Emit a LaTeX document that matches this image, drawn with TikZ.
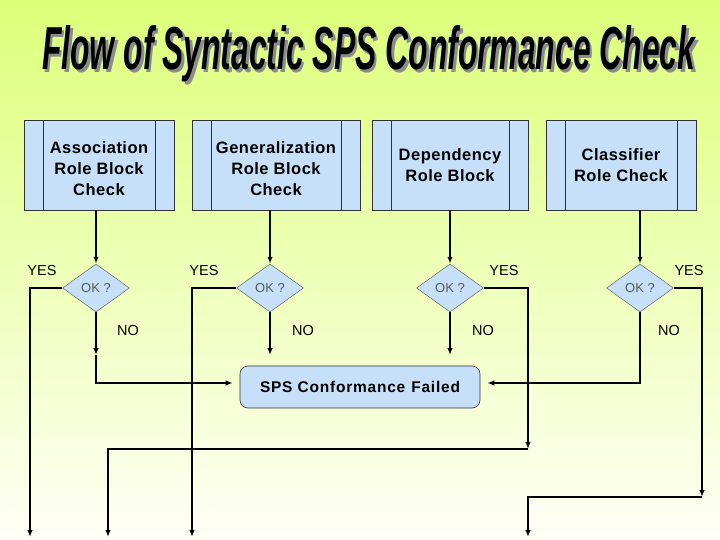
\documentclass[tikz,border=0pt]{standalone}
\usepackage{fontspec}
\setmainfont{Liberation Sans}
\usetikzlibrary{shapes.geometric,arrows.meta}

\definecolor{boxblue}{RGB}{198,224,250}
\definecolor{bgtop}{RGB}{220,255,120}
\definecolor{bgmid}{RGB}{242,255,205}
\definecolor{bgbot}{RGB}{255,255,246}
\definecolor{okgray}{RGB}{90,90,90}

\newcommand{\lowtext}[1]{\raisebox{-5pt}[\height][\depth]{\begin{tabular}{@{}c@{}}#1\end{tabular}}}

\tikzset{
  procbox/.style={draw=black!80, line width=0.6pt, fill=boxblue, minimum height=90pt,
    align=center, font=\fontsize{16.5}{21}\selectfont\bfseries\addfontfeature{LetterSpace=3},
    path picture={
      \draw[black!80, line width=0.6pt]
        ([xshift=19pt]path picture bounding box.north west) -- ([xshift=19pt]path picture bounding box.south west)
        ([xshift=-19pt]path picture bounding box.north east) -- ([xshift=-19pt]path picture bounding box.south east);
    }},
  decision/.style={diamond, draw=black!60, line width=0.5pt, fill=boxblue, aspect=1.4,
    minimum width=67pt, minimum height=48pt, inner sep=0pt, text=okgray,
    font=\fontsize{13}{15}\selectfont},
  failbox/.style={draw=black!80, line width=0.6pt, fill=boxblue, rounded corners=8pt,
    minimum width=240pt, minimum height=42pt,
    font=\fontsize{15.5}{18}\selectfont\bfseries\addfontfeature{LetterSpace=5}},
  answer/.style={font=\fontsize{14.5}{16}\selectfont, inner sep=0pt},
  flow/.style={line width=1.6pt, -{Latex[length=7pt,width=5.5pt]}}
}

\begin{document}
\begin{tikzpicture}[x=1pt, y=-1pt]
  % background
  \shade[top color=bgtop, middle color=bgmid, bottom color=bgbot] (0,0) rectangle (720,540);
  \useasboundingbox (0,0) rectangle (720,540);

  % title with shadow
  \node[anchor=base west, inner sep=0pt, text=black!45] at (44.5,72.5)
    {\resizebox{653pt}{44pt}{\bfseries\itshape Flow of Syntactic SPS Conformance Check}};
  \node[anchor=base west, inner sep=0pt] (title) at (42,70)
    {\resizebox{653pt}{44pt}{\bfseries\itshape Flow of Syntactic SPS Conformance Check}};

  % checks
  \node[procbox, minimum width=150pt] (b1) at (99,165) {\lowtext{Association\\Role Block\\Check}};
  \node[procbox, minimum width=168pt] (b2) at (276,165) {\lowtext{Generalization\\Role Block\\Check}};
  \node[procbox, minimum width=156pt] (b3) at (450,165) {Dependency\\Role Block};
  \node[procbox, minimum width=150pt] (b4) at (621,165) {Classifier\\Role Check};

  \node[decision] (d1) at (96,288) {OK ?};
  \node[decision] (d2) at (270,288) {OK ?};
  \node[decision] (d3) at (450,288) {OK ?};
  \node[decision] (d4) at (640,288) {OK ?};

  \node[failbox] (fail) at (360,387) {SPS Conformance\hspace{6pt}Failed};

  % free ends
  \coordinate (e1) at (30,537);
  \coordinate (e2) at (192,537);
  \coordinate (e3) at (108,537);
  \coordinate (e4) at (528,537);
  \coordinate (j3) at (528,449);
  \coordinate (j4) at (702,497);
  \coordinate (n1) at (96,355);
  \coordinate (n2) at (270,355);
  \coordinate (n3) at (450,355);

  \draw[flow] (d1.north |- b1.south) -- (d1.north);
  \draw[flow] (d2.north |- b2.south) -- (d2.north);
  \draw[flow] (d3.north |- b3.south) -- (d3.north);
  \draw[flow] (d4.north |- b4.south) -- (d4.north);

  % YES
  \draw[flow] (d1.west) -| (e1);
  \draw[flow] (d2.west) -| (e2);
  \draw[flow] (d3.east) -| (j3);
  \draw[flow] (j3) -| (e3);
  \draw[flow] (d4.east) -| (j4);
  \draw[flow] (j4) -| (e4);

  % NO
  \draw[flow] (d1.south) -- (n1);
  \draw[flow, shorten >=7pt] (n1) |- ([yshift=4pt]fail.west);
  \draw[flow] (d2.south) -- (n2);
  \draw[flow] (d3.south) -- (n3);
  \draw[flow, shorten >=7pt] (d4.south) |- ([yshift=4pt]fail.east);

  \node[answer] at (42,271) {YES};
  \node[answer] at (204,271) {YES};
  \node[answer] at (504,271) {YES};
  \node[answer] at (689,271) {YES};
  \node[answer] at (128,331) {NO};
  \node[answer] at (303,331) {NO};
  \node[answer] at (483,331) {NO};
  \node[answer] at (669,331) {NO};
\end{tikzpicture}
\end{document}
